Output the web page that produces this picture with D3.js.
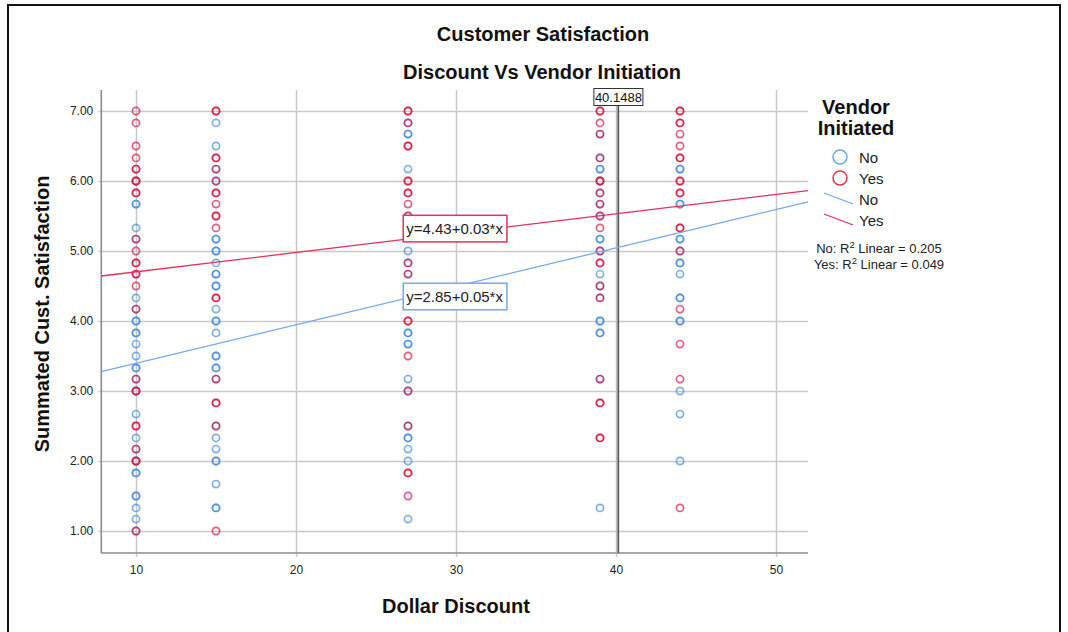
<!DOCTYPE html>
<html>
<head>
<meta charset="utf-8">
<script src="https://cdn.jsdelivr.net/npm/d3@7"></script>
<style>
  html, body { margin: 0; padding: 0; background: #fff; }
  svg { display: block; font-family: "Liberation Sans", Arial, sans-serif; }
</style>
</head>
<body>
<svg id="chart" width="1068" height="632"></svg>
<script>
// Dollar discount offered (x) and summated satisfaction scores (y) per vendor-initiated group.
const discounts = [10, 15, 27, 39, 44];

// Scores for "No" (not vendor initiated); one inner list per discount level
const noScores = [
  [6.0, 5.67, 5.67, 5.33, 5.17, 4.33, 4.17, 4.0, 4.0, 3.83, 3.83, 3.67, 3.5, 3.33, 3.33, 3.17, 3.0, 2.67, 2.33, 2.17, 2.0, 1.83, 1.83, 1.5, 1.5, 1.33, 1.17, 1.0],
  [6.83, 6.5, 6.17, 6.0, 5.17, 5.17, 5.0, 5.0, 4.83, 4.67, 4.67, 4.5, 4.5, 4.17, 4.0, 4.0, 3.83, 3.5, 3.5, 3.33, 3.33, 3.17, 2.5, 2.33, 2.17, 2.0, 2.0, 1.67, 1.33, 1.33],
  [6.83, 6.67, 6.67, 6.17, 5.5, 5.0, 4.83, 4.67, 4.33, 3.83, 3.83, 3.67, 3.67, 3.17, 3.0, 2.5, 2.33, 2.33, 2.17, 2.0, 1.17],
  [6.67, 6.33, 6.17, 6.17, 6.0, 5.83, 5.67, 5.5, 5.17, 5.17, 5.0, 4.67, 4.5, 4.33, 4.0, 4.0, 3.83, 3.83, 3.17, 1.33],
  [6.17, 6.17, 5.67, 5.67, 5.17, 5.17, 5.0, 4.83, 4.83, 4.67, 4.33, 4.33, 4.0, 4.0, 3.0, 2.67, 2.0]
];

// Scores for "Yes" (vendor initiated)
const yesScores = [
  [7.0, 6.83, 6.5, 6.33, 6.17, 6.17, 6.0, 6.0, 5.83, 5.83, 5.17, 5.0, 4.83, 4.83, 4.67, 4.67, 4.5, 4.17, 3.17, 3.0, 3.0, 2.5, 2.5, 2.17, 2.0, 2.0, 1.0],
  [7.0, 7.0, 6.33, 6.33, 6.17, 6.0, 5.83, 5.83, 5.67, 5.5, 5.5, 5.33, 4.33, 4.33, 3.17, 2.83, 2.83, 2.5, 1.0],
  [7.0, 7.0, 6.83, 6.5, 6.5, 6.0, 6.0, 5.83, 5.83, 5.67, 5.5, 5.33, 4.83, 4.67, 4.0, 4.0, 3.5, 3.0, 2.5, 1.83, 1.83, 1.5],
  [7.0, 7.0, 6.83, 6.67, 6.33, 6.0, 6.0, 5.83, 5.67, 5.5, 5.33, 5.0, 4.83, 4.83, 4.5, 4.33, 3.17, 2.83, 2.83, 2.33, 2.33],
  [7.0, 7.0, 6.83, 6.83, 6.67, 6.5, 6.33, 6.33, 6.0, 6.0, 5.83, 5.83, 5.33, 5.33, 5.0, 4.17, 3.67, 3.17, 1.33]
];

const groups = ["No", "Yes"];
const groupColors = ["#3f89e0", "#d8103c"];
const fitColors = ["#72a9ee", "#e5305a"];
const legendColors = ["#6ea5ea", "#e5334f"];

// Linear fit per group: y = intercept + slope * x
const fitIntercepts = [2.848, 4.427];
const fitSlopes = [0.0549, 0.0276];
const rSquared = [0.205, 0.049];

// Mean discount reference line
const meanDiscount = 40.1488;

const xTicks = [10, 20, 30, 40, 50];
const yTicks = [1, 2, 3, 4, 5, 6, 7];

const svg = d3.select("#chart");

const plotLeft = 101.3, plotRight = 808, plotTop = 90, plotBottom = 553;
const titleSize = 20;

const x = d3.scaleLinear().domain([7.83, 52]).range([plotLeft, plotRight]);
const y = d3.scaleLinear().domain([0.686, 7.3]).range([plotBottom, plotTop]);

// outer frame
svg.append("rect")
  .attr("x", 8).attr("y", 5)
  .attr("width", 1052).attr("height", 660)
  .attr("fill", "none").attr("stroke", "#111").attr("stroke-width", 2);

// titles
svg.append("text").attr("x", 543).attr("y", 41)
  .attr("text-anchor", "middle").attr("font-weight", "bold").attr("font-size", titleSize)
  .attr("fill", "#111").text("Customer Satisfaction");
svg.append("text").attr("x", 542).attr("y", 79)
  .attr("text-anchor", "middle").attr("font-weight", "bold").attr("font-size", titleSize)
  .attr("fill", "#111").text("Discount Vs Vendor Initiation");

// grid + y axis
const yAxis = svg.append("g")
  .attr("transform", `translate(${plotLeft},0)`)
  .call(d3.axisLeft(y).tickValues(yTicks).tickFormat(d3.format(".2f"))
    .tickSize(-(plotRight - plotLeft)).tickSizeOuter(0).tickPadding(8));
yAxis.select(".domain").remove();
yAxis.selectAll(".tick line")
  .attr("x1", -3).attr("stroke", "#c9c9c9").attr("stroke-width", 1.5);
yAxis.selectAll(".tick text")
  .attr("font-size", 12).attr("fill", "#222")
  .attr("font-family", "Liberation Sans, Arial, sans-serif");

const xAxis = svg.append("g")
  .attr("transform", `translate(0,${plotBottom})`)
  .call(d3.axisBottom(x).tickValues(xTicks).tickFormat(d3.format("d"))
    .tickSize(-(plotBottom - plotTop)).tickSizeOuter(0).tickPadding(12));
xAxis.select(".domain").remove();
xAxis.selectAll(".tick line")
  .attr("y1", 4).attr("stroke", "#c9c9c9").attr("stroke-width", 1.5);
xAxis.selectAll(".tick text")
  .attr("font-size", 12).attr("fill", "#222")
  .attr("font-family", "Liberation Sans, Arial, sans-serif");

// axis lines
svg.append("line").attr("x1", plotLeft).attr("x2", plotLeft).attr("y1", plotTop).attr("y2", plotBottom)
  .attr("stroke", "#8c8c8c").attr("stroke-width", 1.6);
svg.append("line").attr("x1", plotLeft).attr("x2", plotRight).attr("y1", plotBottom).attr("y2", plotBottom)
  .attr("stroke", "#8c8c8c").attr("stroke-width", 1.6);

// axis titles
svg.append("text").attr("x", 456).attr("y", 613)
  .attr("text-anchor", "middle").attr("font-weight", "bold").attr("font-size", titleSize)
  .attr("fill", "#111").text("Dollar Discount");
svg.append("text")
  .attr("transform", `translate(49,314) rotate(-90)`)
  .attr("text-anchor", "middle").attr("font-weight", "bold").attr("font-size", titleSize)
  .attr("fill", "#111").text("Summated Cust. Satisfaction");

// mean reference line
const xm = x(meanDiscount);
svg.append("line").attr("x1", xm - 1.5).attr("x2", xm - 1.5).attr("y1", plotTop).attr("y2", plotBottom)
  .attr("stroke", "#b5b5b5").attr("stroke-width", 1.2);
svg.append("line").attr("x1", xm).attr("x2", xm).attr("y1", plotTop).attr("y2", plotBottom)
  .attr("stroke", "#555").attr("stroke-width", 1.6);

// points
const plot = svg.append("g");
groups.forEach((g, gi) => {
  const scores = gi === 0 ? noScores : yesScores;
  const pts = [];
  discounts.forEach((d, i) => scores[i].forEach(v => pts.push({ d, v })));
  plot.append("g").selectAll("circle").data(pts).join("circle")
    .attr("cx", p => x(p.d)).attr("cy", p => y(p.v)).attr("r", 3.6)
    .attr("fill", "none").attr("stroke", groupColors[gi])
    .attr("stroke-width", 1.7).attr("stroke-opacity", 0.68);
});

// fit lines
const [x0, x1] = x.domain();
groups.forEach((g, gi) => {
  const f = v => fitIntercepts[gi] + fitSlopes[gi] * v;
  svg.append("line")
    .attr("x1", x(x0)).attr("y1", y(f(x0)))
    .attr("x2", x(x1)).attr("y2", y(f(x1)))
    .attr("stroke", fitColors[gi]).attr("stroke-width", 1.3);
});

// equation labels
const eqAnchors = [4.35, 5.32];
groups.forEach((g, gi) => {
  const label = `y=${fitIntercepts[gi].toFixed(2)}+${fitSlopes[gi].toFixed(2)}*x`;
  const cx = x(26.7), cy = y(eqAnchors[gi]);
  const grp = svg.append("g");
  grp.append("rect").attr("x", cx).attr("y", cy - 13.3)
    .attr("width", 103.7).attr("height", 26.6)
    .attr("fill", "#fff").attr("stroke", fitColors[gi]).attr("stroke-width", 1.5);
  grp.append("text").attr("x", cx + 3).attr("y", cy + 5)
    .attr("font-size", 15).attr("fill", "#222").text(label);
});

// mean value label
const mg = svg.append("g");
mg.append("rect").attr("x", xm - 24.5).attr("y", 88.5).attr("width", 49).attr("height", 17)
  .attr("fill", "#fff").attr("stroke", "#333").attr("stroke-width", 1);
mg.append("text").attr("x", xm).attr("y", 101.5).attr("text-anchor", "middle")
  .attr("font-size", 13).attr("fill", "#111").text(String(meanDiscount));

// legend
const lg = svg.append("g");
lg.append("text").attr("x", 856).attr("y", 114).attr("text-anchor", "middle")
  .attr("font-weight", "bold").attr("font-size", titleSize).attr("fill", "#111").text("Vendor");
lg.append("text").attr("x", 856).attr("y", 135).attr("text-anchor", "middle")
  .attr("font-weight", "bold").attr("font-size", titleSize).attr("fill", "#111").text("Initiated");
groups.forEach((g, gi) => {
  const cy = 157 + gi * 21;
  lg.append("circle").attr("cx", 840).attr("cy", cy).attr("r", 7)
    .attr("fill", "none").attr("stroke", legendColors[gi]).attr("stroke-width", 1.5);
  lg.append("text").attr("x", 859).attr("y", cy + 5.5)
    .attr("font-size", 15).attr("fill", "#222").text(g);
});
groups.forEach((g, gi) => {
  const cy = 199 + gi * 21;
  lg.append("line").attr("x1", 824).attr("y1", cy - 6).attr("x2", 853).attr("y2", cy + 5)
    .attr("stroke", fitColors[gi]).attr("stroke-width", 1.3);
  lg.append("text").attr("x", 859).attr("y", cy + 6)
    .attr("font-size", 15).attr("fill", "#222").text(g);
});
groups.forEach((g, gi) => {
  const t = lg.append("text").attr("x", 879).attr("y", 253 + gi * 16)
    .attr("text-anchor", "middle").attr("font-size", 13).attr("fill", "#222");
  t.append("tspan").text(`${g}: R`);
  t.append("tspan").attr("dy", -5).attr("font-size", 9.5).text("2");
  t.append("tspan").attr("dy", 5).text(` Linear = ${rSquared[gi].toFixed(3)}`);
});
</script>
</body>
</html>
